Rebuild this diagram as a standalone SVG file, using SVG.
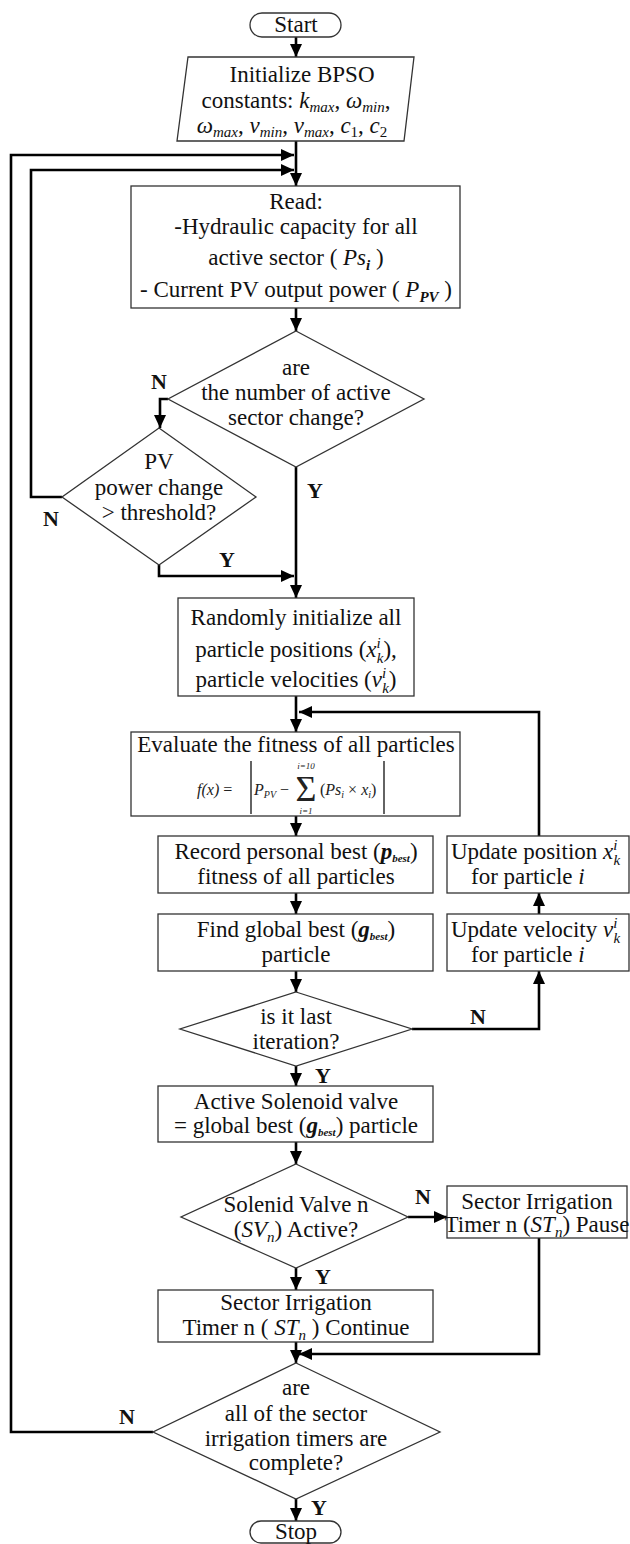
<svg xmlns="http://www.w3.org/2000/svg" width="630" height="1544" viewBox="0 0 630 1544">
<style>
.t{font-family:"Liberation Serif","Times New Roman",serif;font-size:23px;fill:#111;text-anchor:middle}
.s{text-anchor:start}
.m{font-style:italic}
.sb{font-size:15px}
.bi{font-weight:bold;font-style:italic}
.lb{font-family:"Liberation Serif","Times New Roman",serif;font-size:22px;font-weight:bold;fill:#111;text-anchor:middle}
.f{font-family:"Liberation Serif","Times New Roman",serif;font-size:16px;fill:#222;font-style:italic}
.box{fill:#fff;stroke:#333;stroke-width:1.3}
.c{fill:none;stroke:#000;stroke-width:2.6}
</style>
<defs>
<marker id="ah" markerUnits="userSpaceOnUse" markerWidth="13" markerHeight="12" refX="13" refY="6" orient="auto">
<path d="M0,0 L13,6 L0,12 z" fill="#000"/>
</marker>
</defs>
<g id="connectors">
<path class="c" d="M296,37 V57" marker-end="url(#ah)"/>
<path class="c" d="M296,141 V186" marker-end="url(#ah)"/>
<path class="c" d="M153,1432 H11 V155 H294" marker-end="url(#ah)"/>
<path class="c" d="M62,497 H31 V170 H294" marker-end="url(#ah)"/>
<path class="c" d="M296,308 V331" marker-end="url(#ah)"/>
<path class="c" d="M168,399 H160 V428" marker-end="url(#ah)"/>
<path class="c" d="M296,467 V598" marker-end="url(#ah)"/>
<path class="c" d="M159,565 V576 H294" marker-end="url(#ah)"/>
<path class="c" d="M296,696 V732" marker-end="url(#ah)"/>
<path class="c" d="M539,836 V712 H299" marker-end="url(#ah)"/>
<path class="c" d="M296,816 V836" marker-end="url(#ah)"/>
<path class="c" d="M296,893 V914" marker-end="url(#ah)"/>
<path class="c" d="M296,971 V992" marker-end="url(#ah)"/>
<path class="c" d="M412,1029 H539 V971" marker-end="url(#ah)"/>
<path class="c" d="M539,914 V893" marker-end="url(#ah)"/>
<path class="c" d="M296,1066 V1086" marker-end="url(#ah)"/>
<path class="c" d="M296,1142 V1164" marker-end="url(#ah)"/>
<path class="c" d="M408,1217 H447" marker-end="url(#ah)"/>
<path class="c" d="M539,1238 V1354 H299" marker-end="url(#ah)"/>
<path class="c" d="M296,1268 V1290" marker-end="url(#ah)"/>
<path class="c" d="M296,1342 V1363" marker-end="url(#ah)"/>
<path class="c" d="M296,1499 V1521" marker-end="url(#ah)"/>
</g>
<g id="labels">
<text class="lb" x="159" y="389">N</text>
<text class="lb" x="315" y="498">Y</text>
<text class="lb" x="51" y="526">N</text>
<text class="lb" x="227" y="567">Y</text>
<text class="lb" x="478" y="1024">N</text>
<text class="lb" x="323" y="1083">Y</text>
<text class="lb" x="423" y="1204">N</text>
<text class="lb" x="323" y="1284">Y</text>
<text class="lb" x="127" y="1424">N</text>
<text class="lb" x="319" y="1515">Y</text>
</g>
<g id="start">
<rect class="box" x="250" y="13" width="91" height="24" rx="12"/>
<text class="t" x="296" y="32">Start</text>
</g>
<g id="init">
<polygon class="box" points="188,57 414,57 404,141 177,141"/>
<text class="t" x="302" y="82">Initialize BPSO</text>
<text class="t" x="296" y="108">constants: <tspan class="m">k</tspan><tspan class="m sb" dy="4">max</tspan><tspan dy="-4">, </tspan><tspan class="m">ω</tspan><tspan class="m sb" dy="4">min</tspan><tspan dy="-4">,</tspan></text>
<text class="t" x="292" y="133"><tspan class="m">ω</tspan><tspan class="m sb" dy="4">max</tspan><tspan dy="-4">, </tspan><tspan class="m">v</tspan><tspan class="m sb" dy="4">min</tspan><tspan dy="-4">, </tspan><tspan class="m">v</tspan><tspan class="m sb" dy="4">max</tspan><tspan dy="-4">, </tspan><tspan class="m">c</tspan><tspan class="sb" dy="4">1</tspan><tspan dy="-4">, </tspan><tspan class="m">c</tspan><tspan class="sb" dy="4">2</tspan></text>
</g>
<g id="read">
<rect class="box" x="131" y="186" width="329" height="122"/>
<text class="t" x="296" y="209">Read:</text>
<text class="t" x="296" y="234">-Hydraulic capacity for all</text>
<text class="t" x="296" y="265">active sector ( <tspan class="m">Ps</tspan><tspan class="bi sb" dy="5">i</tspan><tspan dy="-5"> )</tspan></text>
<text class="t" x="296" y="297">- Current PV output power ( <tspan class="m">P</tspan><tspan class="bi sb" dy="5">PV</tspan><tspan dy="-5"> )</tspan></text>
</g>
<g id="dec-sector">
<polygon class="box" points="296,331 424,399 296,467 168,399"/>
<text class="t" x="296" y="375">are</text>
<text class="t" x="296" y="400">the number of active</text>
<text class="t" x="296" y="425">sector change?</text>
</g>
<g id="dec-pv">
<polygon class="box" points="159,428 256,497 159,565 62,497"/>
<text class="t" x="159" y="469">PV</text>
<text class="t" x="159" y="495">power change</text>
<text class="t" x="159" y="520">&gt; threshold?</text>
</g>
<g id="randomize">
<rect class="box" x="178" y="598" width="236" height="98"/>
<text class="t" x="296" y="625">Randomly initialize all</text>
<text class="t" x="296" y="657">particle positions (<tspan class="m">x</tspan><tspan class="m sb" dy="-9">i</tspan><tspan class="m sb" dx="-4" dy="15">k</tspan><tspan dy="-6">),</tspan></text>
<text class="t" x="296" y="687">particle velocities (<tspan class="m">v</tspan><tspan class="m sb" dy="-9">i</tspan><tspan class="m sb" dx="-4" dy="15">k</tspan><tspan dy="-6">)</tspan></text>
</g>
<g id="evaluate">
<rect class="box" x="131" y="732" width="329" height="84"/>
<text class="t" x="296" y="752">Evaluate the fitness of all particles</text>
<text class="f" x="197" y="795">f(x) <tspan font-style="normal">=</tspan></text>
<line x1="251" y1="761" x2="251" y2="814" stroke="#222" stroke-width="1.4"/>
<text class="f" x="254" y="795">P<tspan font-size="10" dy="3">PV</tspan><tspan font-style="normal" dy="-3"> −</tspan></text>
<text class="f" x="306" y="769" style="font-size:9px" text-anchor="middle">i=10<tspan x="306" dy="32" font-size="36" font-style="normal">Σ</tspan><tspan x="306" dy="13" font-size="9">i=1</tspan></text>
<text class="f" x="320" y="795"><tspan font-style="normal">(</tspan>Ps<tspan font-size="10" dy="3">i</tspan><tspan font-style="normal" dy="-3"> × </tspan>x<tspan font-size="10" dy="3">i</tspan><tspan font-style="normal" dy="-3">)</tspan></text>
<line x1="384" y1="761" x2="384" y2="814" stroke="#222" stroke-width="1.4"/>
</g>
<g id="record">
<rect class="box" x="158" y="836" width="275" height="57"/>
<text class="t" x="296" y="859">Record personal best (<tspan class="bi">p</tspan><tspan class="bi" font-size="11" dy="3">best</tspan><tspan dy="-3">)</tspan></text>
<text class="t" x="296" y="884">fitness of all particles</text>
</g>
<g id="global">
<rect class="box" x="158" y="914" width="275" height="57"/>
<text class="t" x="296" y="937">Find global best (<tspan class="bi">g</tspan><tspan class="bi" font-size="11" dy="3">best</tspan><tspan dy="-3">)</tspan></text>
<text class="t" x="296" y="962">particle</text>
</g>
<g id="dec-iter">
<polygon class="box" points="296,992 412,1029 296,1066 180,1029"/>
<text class="t" x="296" y="1024">is it last</text>
<text class="t" x="296" y="1049">iteration?</text>
</g>
<g id="upd-pos">
<rect class="box" x="447" y="836" width="182" height="57"/>
<text class="t s" x="451" y="859">Update position <tspan class="m">x</tspan><tspan class="m sb" dy="-9">i</tspan><tspan class="m sb" dx="-4" dy="15">k</tspan></text>
<text class="t s" x="471" y="884">for particle <tspan class="m">i</tspan></text>
</g>
<g id="upd-vel">
<rect class="box" x="447" y="914" width="182" height="57"/>
<text class="t s" x="451" y="937">Update velocity <tspan class="m">v</tspan><tspan class="m sb" dy="-9">i</tspan><tspan class="m sb" dx="-4" dy="15">k</tspan></text>
<text class="t s" x="471" y="962">for particle <tspan class="m">i</tspan></text>
</g>
<g id="active">
<rect class="box" x="158" y="1086" width="275" height="56"/>
<text class="t" x="296" y="1109">Active Solenoid valve</text>
<text class="t" x="296" y="1133">= global best (<tspan class="bi">g</tspan><tspan class="bi" font-size="11" dy="3">best</tspan><tspan dy="-3">) particle</tspan></text>
</g>
<g id="dec-sv">
<polygon class="box" points="296,1164 408,1217 296,1268 181,1217"/>
<text class="t" x="296" y="1212">Solenid Valve n</text>
<text class="t" x="296" y="1237">(<tspan class="m">SV</tspan><tspan class="m sb" dy="5">n</tspan><tspan dy="-5">) Active?</tspan></text>
</g>
<g id="pause">
<rect class="box" x="447" y="1186" width="180" height="52"/>
<text class="t" x="537" y="1209">Sector Irrigation</text>
<text class="t" x="537" y="1232">Timer n (<tspan class="m">ST</tspan><tspan class="m sb" dy="5">n</tspan><tspan dy="-5">) Pause</tspan></text>
</g>
<g id="continue">
<rect class="box" x="158" y="1290" width="275" height="52"/>
<text class="t" x="296" y="1310">Sector Irrigation</text>
<text class="t" x="296" y="1335">Timer n ( <tspan class="m">ST</tspan><tspan class="m sb" dy="5">n</tspan><tspan dy="-5"> ) Continue</tspan></text>
</g>
<g id="dec-complete">
<polygon class="box" points="296,1363 440,1432 296,1499 153,1432"/>
<text class="t" x="296" y="1395">are</text>
<text class="t" x="296" y="1421">all of the sector</text>
<text class="t" x="296" y="1446">irrigation timers are</text>
<text class="t" x="296" y="1470">complete?</text>
</g>
<g id="stop">
<rect class="box" x="250" y="1521" width="91" height="22" rx="11"/>
<text class="t" x="296" y="1539">Stop</text>
</g>
</svg>
